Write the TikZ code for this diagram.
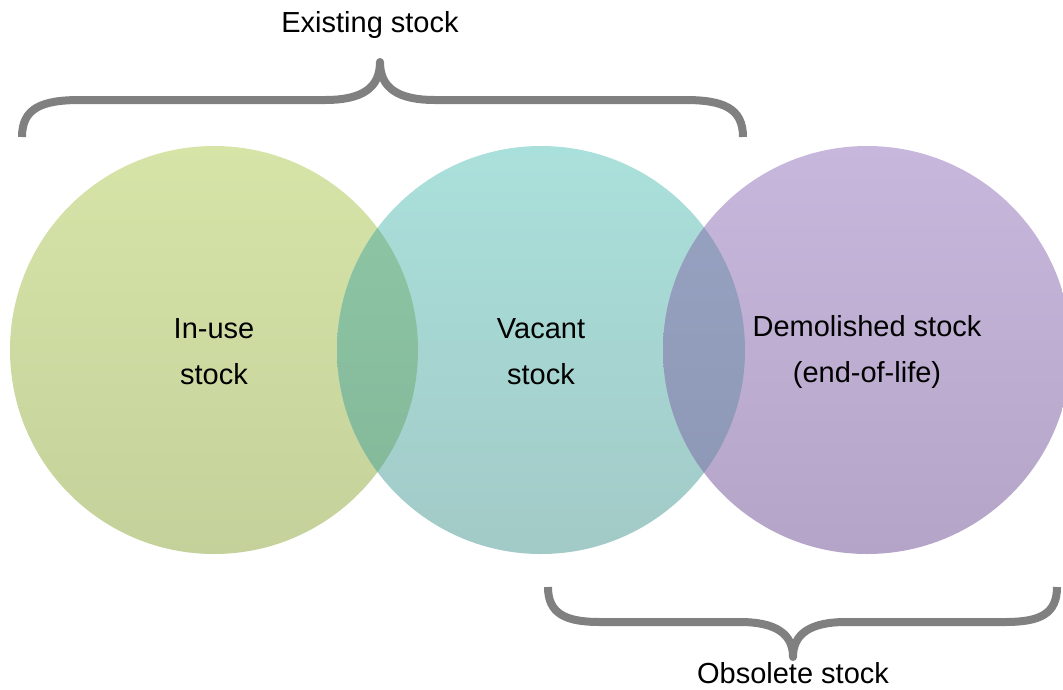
\documentclass[tikz,border=0pt]{standalone}
\usepackage{fontspec}
\setmainfont{Liberation Sans}
\usetikzlibrary{positioning}

\definecolor{greenTop}{HTML}{D6E4A8}
\definecolor{greenBot}{HTML}{C4D19A}
\definecolor{tealTop}{HTML}{AAE0DB}
\definecolor{tealBot}{HTML}{A2CAC7}
\definecolor{purpTop}{HTML}{C7B7DC}
\definecolor{purpBot}{HTML}{B4A5C8}
\definecolor{gtTop}{HTML}{8FC8A6}
\definecolor{gtBot}{HTML}{82B698}
\definecolor{tpTop}{HTML}{98A3C3}
\definecolor{tpBot}{HTML}{8C96B4}
\definecolor{braceGray}{HTML}{808080}

\begin{document}
\begin{tikzpicture}[
    x=1pt, y=-1pt,
    font=\fontsize{29}{46}\selectfont
]
\tikzset{
    stockcircle/.style = {circle, inner sep=0pt, minimum size=408pt, align=center},
    bracket/.style = {draw=braceGray, line width=8pt, line join=round},
    caption/.style = {inner sep=0pt}
}
\fill[white] (0,0) rectangle (1063,689);
\useasboundingbox (0,0) rectangle (1063,689);
% the three stock circles
\node[stockcircle, top color=greenTop, bottom color=greenBot] at (214,350) (inuse) {};
\node[stockcircle, top color=tealTop,  bottom color=tealBot]  at (541,350) (vacant) {};
\node[stockcircle, top color=purpTop,  bottom color=purpBot]  at (867,350) (demolished) {};
% overlaps
\begin{scope}
\clip (inuse.center) circle (204pt);
\shade[top color=gtTop, bottom color=gtBot] (vacant.center) circle (204pt);
\end{scope}
\begin{scope}
\clip (vacant.center) circle (204pt);
\shade[top color=tpTop, bottom color=tpBot] (demolished.center) circle (204pt);
\end{scope}
% texts in the circles
\node[align=center] at (214,352) (inusetext) {In-use\\stock};
\node[align=center] at (541,352) (vacanttext) {Vacant\\stock};
\node[align=center] at (867,352) (demolishedtext) {Demolished stock\\(end-of-life)};
% braces
\draw[bracket] (22,137) .. controls (22,108) and (42,100) .. (80,100) -- (325,100)
    .. controls (362,100) and (380,88) .. (380,62)
    .. controls (380,88) and (398,100) .. (435,100) -- (685,100)
    .. controls (723,100) and (743,108) .. (743,137);
\draw[bracket] (548,587) .. controls (548,614) and (566,622) .. (600,622) -- (740,622)
    .. controls (776,622) and (793,634) .. (793,657)
    .. controls (793,634) and (810,622) .. (846,622) -- (1005,622)
    .. controls (1040,622) and (1057,614) .. (1057,587);
\node[caption] at (370,25) (existing) {Existing stock};
\node[caption] at (793,673) (obsolete) {Obsolete stock};
\end{tikzpicture}
\end{document}
